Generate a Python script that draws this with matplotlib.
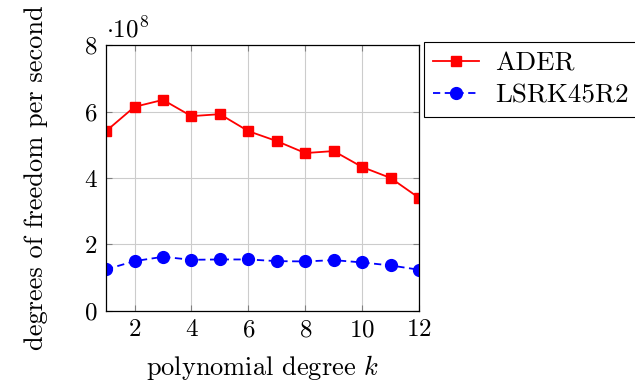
import matplotlib.pyplot as plt
import numpy as np

plt.rcParams['font.family'] = 'cmr10'
plt.rcParams['mathtext.fontset'] = 'cm'
plt.rcParams['axes.formatter.use_mathtext'] = True

degree = [1, 2, 3, 4, 5, 6, 7, 8, 9, 10, 11, 12]
ader = [5.41, 6.14, 6.35, 5.86, 5.92, 5.41, 5.11, 4.75, 4.81, 4.33, 4.0, 3.40]
lsrk = [1.25, 1.50, 1.63, 1.54, 1.55, 1.55, 1.50, 1.49, 1.53, 1.46, 1.37, 1.24]

fig = plt.figure(figsize=(6.35, 3.83), dpi=100)
ax = fig.add_axes([0.167, 0.188, 0.493, 0.6945])

ax.plot(degree, ader, color='red', marker='s', markersize=7, lw=1.3, label='ADER')
ax.plot(degree, lsrk, color='blue', marker='o', markersize=8.5, lw=1.3,
        ls=(0, (4, 2.5)), label='LSRK45R2')

ax.set_xlim(1, 12)
ax.set_ylim(0, 8)
ax.set_xticks([2, 4, 6, 8, 10, 12])
ax.set_yticks([0, 2, 4, 6, 8])
ax.grid(True, color='#cccccc', lw=0.8)
ax.set_axisbelow(True)
ax.tick_params(direction='in', top=True, right=True, length=4, color='#808080',
               labelsize=18, pad=6)
for s in ax.spines.values():
    s.set_linewidth(0.9)
ax.text(0.0, 1.01, r'$\cdot 10^8$', transform=ax.transAxes, fontsize=18, va='bottom', ha='left')

ax.set_xlabel(r'polynomial degree $k$', fontsize=19, labelpad=8)
ax.set_ylabel('degrees of freedom per second', fontsize=19, labelpad=26)

leg = ax.legend(loc='upper left', bbox_to_anchor=(1.015, 1.01), fontsize=19.5,
                fancybox=False, edgecolor='black', framealpha=1, borderaxespad=0,
                handlelength=1.7, handletextpad=0.6, borderpad=0.35, labelspacing=0.3)
leg.get_frame().set_linewidth(0.8)

plt.savefig('out.png', dpi=100)
